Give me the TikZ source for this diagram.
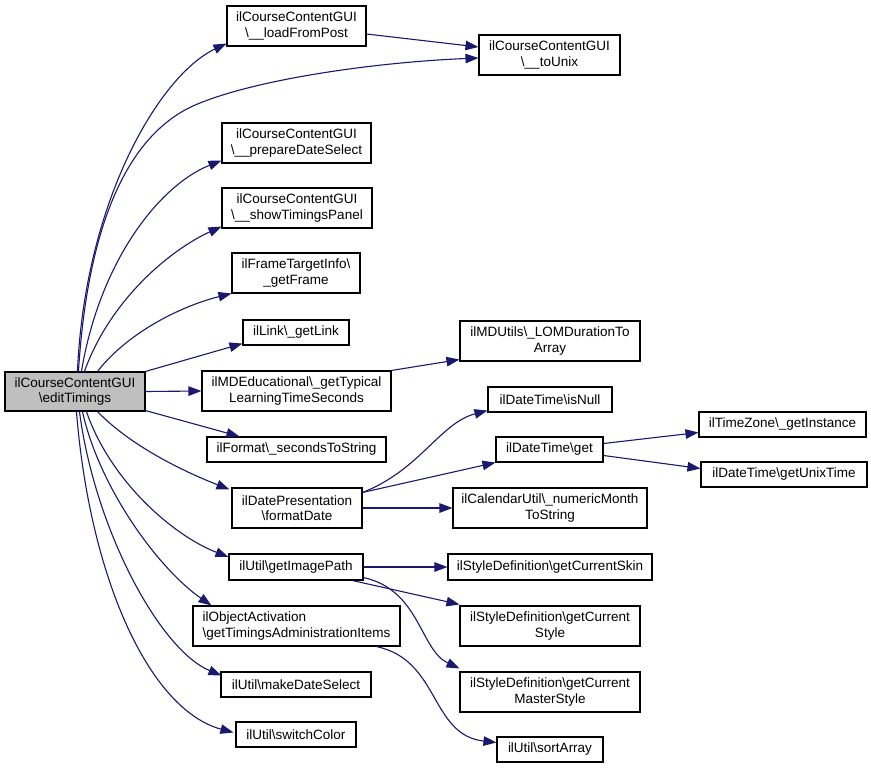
\documentclass[tikz,border=0pt]{standalone}
\usepackage{fontspec}
\setmainfont{Liberation Sans}
\usetikzlibrary{arrows.meta,calc}
\definecolor{edgeblue}{HTML}{191970}
\definecolor{maingray}{HTML}{BFBFBF}
\tikzset{
  box/.style={draw=black, line width=1.1pt, fill=white, inner sep=0pt, align=center,
    font=\fontsize{13.5}{15.5}\selectfont},
  edge/.style={draw=edgeblue, line width=1.1pt, -{Triangle[length=13pt,width=9.5pt]}, fill=none},
}
\newcommand{\bs}{\textbackslash}
\begin{document}
\begin{tikzpicture}[x=1pt,y=-1pt]
\useasboundingbox[fill=white] (0,0) rectangle (871,769);
% level 0
\node[box, fill=maingray, minimum width=140pt, minimum height=39pt] (main) at (75,391.5) {ilCourseContentGUI\\\bs editTimings};
% level 1
\node[box, minimum width=139pt, minimum height=40pt] (loadFromPost) at (296.5,26) {ilCourseContentGUI\\\bs\_\_loadFromPost};
\node[box, minimum width=149pt, minimum height=40pt] (prepare) at (296.5,143) {ilCourseContentGUI\\\bs\_\_prepareDateSelect};
\node[box, minimum width=150pt, minimum height=40pt] (showTimings) at (297,208) {ilCourseContentGUI\\\bs\_\_showTimingsPanel};
\node[box, minimum width=128pt, minimum height=40pt] (getFrame) at (296,273) {ilFrameTargetInfo\bs\\\_getFrame};
\node[box, minimum width=106pt, minimum height=25pt] (getLink) at (296,332.5) {ilLink\bs\_getLink};
\node[box, minimum width=189pt, minimum height=40pt] (mdedu) at (296.5,391) {ilMDEducational\bs\_getTypical\\LearningTimeSeconds};
\node[box, minimum width=179pt, minimum height=25pt] (format) at (296.5,449.5) {ilFormat\bs\_secondsToString};
\node[box, minimum width=130pt, minimum height=40pt] (datepres) at (297,508) {ilDatePresentation\\\bs formatDate};
\node[box, minimum width=134pt, minimum height=26pt] (imagepath) at (296,567) {ilUtil\bs getImagePath};
\node[box, align=left, minimum width=207pt, minimum height=40pt] (objact) at (296.5,626) {ilObjectActivation\\\bs getTimingsAdministrationItems};
\node[box, minimum width=150pt, minimum height=25pt] (makedate) at (296,684.5) {ilUtil\bs makeDateSelect};
\node[box, minimum width=120pt, minimum height=25pt] (switchcolor) at (296,734.5) {ilUtil\bs switchColor};
% level 2
\node[box, minimum width=141pt, minimum height=40pt] (toUnix) at (549.5,55) {ilCourseContentGUI\\\bs\_\_toUnix};
\node[box, minimum width=180pt, minimum height=40pt] (mdutils) at (550,341) {ilMDUtils\bs\_LOMDurationTo\\Array};
\node[box, minimum width=124pt, minimum height=25pt] (isnull) at (550,399.5) {ilDateTime\bs isNull};
\node[box, minimum width=107pt, minimum height=25pt] (dtget) at (549.5,449.5) {ilDateTime\bs get};
\node[box, minimum width=194pt, minimum height=40pt] (calutil) at (550,508) {ilCalendarUtil\bs\_numericMonth\\ToString};
\node[box, minimum width=204pt, minimum height=26pt] (curskin) at (550,567) {ilStyleDefinition\bs getCurrentSkin};
\node[box, minimum width=180pt, minimum height=40pt] (curstyle) at (550,626) {ilStyleDefinition\bs getCurrent\\Style};
\node[box, minimum width=180pt, minimum height=40pt] (curmaster) at (550,692) {ilStyleDefinition\bs getCurrent\\MasterStyle};
\node[box, minimum width=106pt, minimum height=25pt] (sortarray) at (550,749.5) {ilUtil\bs sortArray};
% level 3
\node[box, minimum width=167pt, minimum height=25pt] (timezone) at (782.5,424.5) {ilTimeZone\bs\_getInstance};
\node[box, minimum width=166pt, minimum height=25pt] (unixtime) at (784,474.5) {ilDateTime\bs getUnixTime};

% edges from main (upwards)
\draw[edge] ($(main.north west)+(73,0)$) .. controls (85,200) and (160,75) .. ($(loadFromPost.south west)+(0,-3)$);
\draw[edge] ($(main.north west)+(74,0)$) .. controls (88,220) and (130,130) .. (200,103) .. controls (262,78) and (380,62) .. ($(toUnix.west)+(0,3)$);
\draw[edge] ($(main.north west)+(77,0)$) .. controls (100,260) and (160,185) .. ($(prepare.south west)+(0,-3)$);
\draw[edge] ($(main.north west)+(80,0)$) .. controls (110,300) and (170,250) .. ($(showTimings.south west)+(0,-2)$);
\draw[edge] ($(main.north west)+(93,0)$) .. controls (130,330) and (185,305) .. ($(getFrame.south west)+(0,0)$);
\draw[edge] ($(main.north east)+(0,0)$) -- ($(getLink.south west)+(0,-2)$);
\draw[edge] (main.east) -- (mdedu.west);
\draw[edge] ($(main.south east)+(0,-1)$) -- ($(format.north west)+(33,0)$);
% edges from main (downwards)
\draw[edge] ($(main.south west)+(93,0)$) .. controls (130,445) and (180,470) .. ($(datepres.north west)+(-2,2)$);
\draw[edge] ($(main.south west)+(82,0)$) .. controls (110,480) and (172,535) .. ($(imagepath.west)+(0,-10)$);
\draw[edge] ($(main.south west)+(78,0)$) .. controls (100,490) and (160,570) .. ($(objact.north west)+(19,0)$);
\draw[edge] ($(main.south west)+(75,0)$) .. controls (95,530) and (160,650) .. ($(makedate.west)+(1,-9)$);
\draw[edge] ($(main.south west)+(72,0)$) .. controls (90,580) and (150,710) .. ($(switchcolor.west)+(-2,-2)$);
% level 1 to level 2
\draw[edge] ($(loadFromPost.east)+(0,8)$) -- ($(toUnix.west)+(0,-8)$);
\draw[edge] (mdedu.north east) -- ($(mdutils.south west)+(0,-2)$);
\draw[edge] ($(datepres.north east)+(0,5)$) .. controls (420,470) and (440,423) .. ($(isnull.south west)+(0,-2)$);
\draw[edge] ($(datepres.north east)+(0,5)$) -- ($(dtget.south west)+(0,0)$);
\draw[edge] (datepres.east) -- (calutil.west);
\draw[edge] (imagepath.east) -- (curskin.west);
\draw[edge] ($(imagepath.south east)+(-11,0)$) -- ($(curstyle.north west)+(0,-1)$);
\draw[edge] ($(imagepath.south east)+(0,-3)$) .. controls (420,590) and (420,650) .. ($(curmaster.north west)+(0,-3)$);
\draw[edge] ($(objact.south west)+(184,0)$) .. controls (440,660) and (430,735) .. ($(sortarray.west)+(0,-7)$);
% level 2 to level 3
\draw[edge] ($(dtget.east)+(0,-6)$) -- ($(timezone.west)+(0,8)$);
\draw[edge] ($(dtget.east)+(0,6)$) -- ($(unixtime.west)+(0,-6)$);
\end{tikzpicture}
\end{document}
